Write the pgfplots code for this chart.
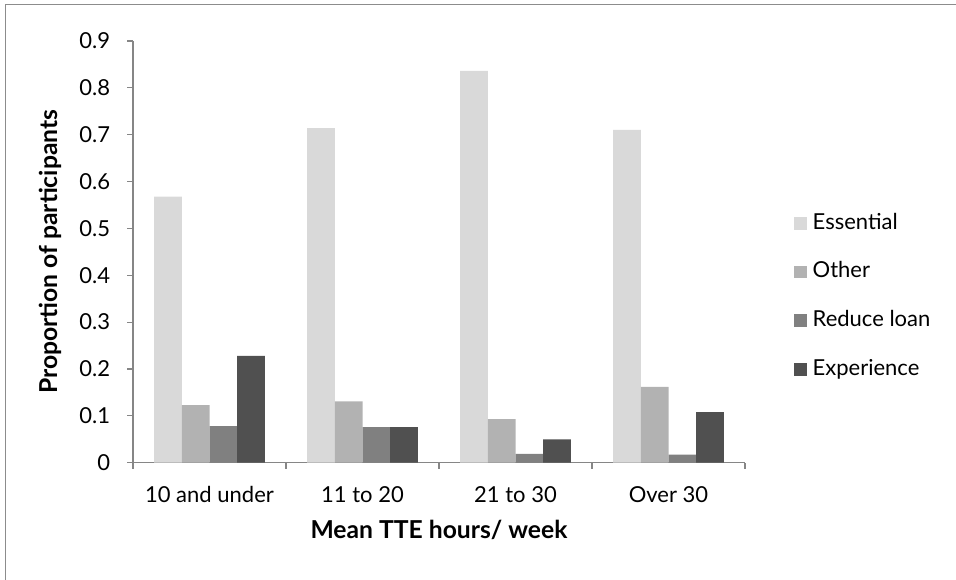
\documentclass[border=0pt]{standalone}
\usepackage{fontspec}
\setmainfont{Lato}
\usepackage{pgfplots}
\pgfplotsset{compat=1.18}

\definecolor{essential}{HTML}{D9D9D9}
\definecolor{other}{HTML}{B2B2B2}
\definecolor{reduce}{HTML}{808080}
\definecolor{experience}{HTML}{505050}
\definecolor{axisgray}{HTML}{868686}
\definecolor{framegray}{HTML}{8C8C8C}

\pgfplotsset{
  sqlegend/.style={legend image code/.code={
      \fill[##1] (0pt,-4.75pt) rectangle (9.5pt,4.75pt);}},
}

\begin{document}
\fontsize{16.5}{19}\selectfont
\begin{tikzpicture}[x=0.75pt,y=0.75pt]
\useasboundingbox (0,0) rectangle (956,580);
\draw[framegray, line width=0.75pt] (5,-10) rectangle (966,575);
\begin{axis}[
  at={(99.75pt,87.975pt)}, anchor=south west,
  scale only axis,
  width=459pt, height=316.3pt,
  xmin=-0.5, xmax=3.5,
  ymin=0, ymax=0.9,
  axis x line*=bottom, axis y line*=left,
  axis line style={axisgray, line width=0.9pt},
  every tick/.style={axisgray, line width=0.9pt},
  tick align=outside,
  major tick length=4.5pt, minor tick length=4.5pt,
  xtick={0,1,2,3},
  xticklabels={10 and under, 11 to 20, 21 to 30, Over 30},
  major x tick style={draw=none},
  minor xtick={-0.5,0.5,1.5,2.5,3.5},
  ytick={0,0.1,0.2,0.3,0.4,0.5,0.6,0.7,0.8,0.9},
  /pgf/number format/fixed,
  /pgf/number format/precision=1,
  /pgf/number format/assume math mode=true,
  xticklabel style={anchor=base, yshift=-25.5pt},
  yticklabel style={anchor=east, inner sep=0pt, xshift=-12.5pt},
  ylabel={\fontsize{18.5}{22}\selectfont\bfseries Proportion of participants},
  ylabel style={at={(axis description cs:-0.1356,0.5)}, anchor=center, rotate=0},
  xlabel={\fontsize{18.5}{22}\selectfont\bfseries Mean TTE hours/ week},
  xlabel style={at={(axis description cs:0.5,-0.1793)}, anchor=base},
  ybar=0pt, bar width=0.181,
  legend style={at={(axis description cs:1.0801,0.5903)}, anchor=north west,
    draw=none, fill=none, inner sep=0pt, outer sep=0pt,
    nodes={inner sep=0pt, text height=11.5pt, text depth=3pt},
    row sep=22pt, column sep=4.5pt},
  legend cell align=left,
  sqlegend,
]
\addplot[fill=essential, draw=none, bar shift=-0.2715] coordinates {(0,0.568) (1,0.714) (2,0.836) (3,0.710)};
\addplot[fill=other, draw=none, bar shift=-0.0905] coordinates {(0,0.123) (1,0.131) (2,0.093) (3,0.162)};
\addplot[fill=reduce, draw=none, bar shift=0.0905] coordinates {(0,0.078) (1,0.076) (2,0.019) (3,0.017)};
\addplot[fill=experience, draw=none, bar shift=0.2715] coordinates {(0,0.228) (1,0.076) (2,0.050) (3,0.108)};
\legend{Essential, Other, Reduce loan, Experience}
\end{axis}
\end{tikzpicture}
\end{document}
